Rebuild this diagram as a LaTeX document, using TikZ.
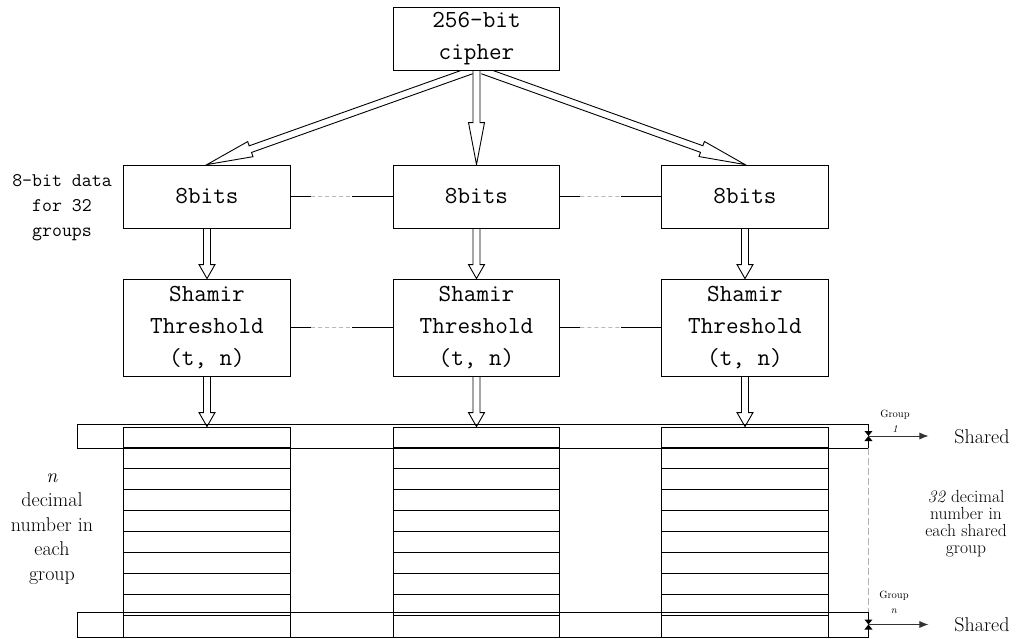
\documentclass[tikz,border=0pt]{standalone}
\usetikzlibrary{calc,arrows.meta,backgrounds}
\tikzset{
  box/.style={draw, fill=white, line width=0.9pt, minimum width=166.5pt, inner sep=0pt, align=center, font=\fontsize{24.5}{32}\selectfont\ttfamily},
  band/.style={draw, line width=0.9pt, minimum width=791pt, inner sep=0pt},
  col/.style={draw, line width=0.9pt, minimum width=166.5pt, minimum height=210pt, inner sep=0pt},
  link/.style={line width=0.8pt},
  gap/.style={white, line width=2pt, postaction={draw=gray!55, line width=0.9pt, dash pattern=on 4pt off 3pt}},
  vgap/.style={gray!60, line width=0.9pt, dash pattern=on 7pt off 3pt},
  outarrow/.style={line width=0.8pt, black!80, -{Latex[length=9pt,width=7pt]}},
  note/.style={align=center, inner sep=0pt},
}
% hollow block arrow: from, to, head length
\newcommand{\hollowarrow}[3]{%
  \coordinate (hb) at ($(#2)!#3!(#1)$);
  \filldraw[fill=white, line width=0.9pt]
    ($(#1)!3.5pt!90:(#2)$) -- ($(hb)!3.5pt!-90:(#1)$) -- ($(hb)!8pt!-90:(#1)$) -- (#2)
    -- ($(hb)!8pt!90:(#1)$) -- ($(hb)!3.5pt!90:(#1)$) -- ($(#1)!3.5pt!-90:(#2)$);}
% small hourglass mark
\newcommand{\tiemark}[1]{\fill (#1) ++(-4,-5) -- ++(8,0) -- ++(-8,10) -- ++(8,0) -- cycle;}
\begin{document}
\begin{tikzpicture}[x=1pt,y=-1pt]
\useasboundingbox (0,0) rectangle (1016,638);
% boxes
\node[box, minimum height=63pt] (cipher) at (476.5,38.5) {256-bit\\cipher};
\foreach \n/\cx in {L/207, M/476.5, R/745} {
  \node[box, minimum height=63pt] (bits\n) at (\cx,196.5) {8bits};
  \node[box, minimum height=97pt] (sham\n) at (\cx,327.5) {Shamir\\Threshold\\(t, n)};
  \node[col] (col\n) at (\cx,532) {};
}
% shares
\node[band, minimum height=24pt] (top) at (472.5,436) {};
\node[band, minimum height=25pt] (bot) at (472.5,624.5) {};
\foreach \n in {L,M,R}
  \foreach \k in {1,...,9}
    \draw[link] ($(col\n.north west)+(0,21*\k)$) -- ($(col\n.north east)+(0,21*\k)$);
\draw[vgap] (top.south east) -- (bot.north east);
% arrows
\begin{scope}[on background layer]
  \coordinate (cl) at ($(cipher.south)+(-5,0)$);
  \coordinate (cr) at ($(cipher.south)+(6,0)$);
  \hollowarrow{cl}{bitsL.north}{46pt}
  \hollowarrow{cipher.south}{bitsM.north}{42pt}
  \hollowarrow{cr}{bitsR.north}{46pt}
  \foreach \n in {L,M,R} {
    \hollowarrow{bits\n.south}{sham\n.north}{14pt}
    \hollowarrow{sham\n.south}{col\n.north}{14pt}
  }
\end{scope}
\foreach \a/\b in {L/M, M/R} {
  \draw[link] (bits\a) -- (bits\b);
  \draw[gap] ($(bits\a.east)!0.2!(bits\b.west)$) -- ($(bits\a.east)!0.6!(bits\b.west)$);
  \draw[link] (sham\a) -- (sham\b);
  \draw[gap] ($(sham\a.east)!0.2!(sham\b.west)$) -- ($(sham\a.east)!0.6!(sham\b.west)$);
}
% outputs
\tiemark{top.east}
\tiemark{bot.east}
\coordinate (o1) at ($(top.east)+(60,0)$);
\coordinate (o2) at ($(bot.east)+(60,0)$);
\draw[outarrow] (top.east) -- (o1);
\draw[outarrow] (bot.east) -- (o2);
\node[note, font=\fontsize{20}{24}\selectfont] (sh1) at (982,437) {Shared};
\node[note, font=\fontsize{20}{24}\selectfont] (sh2) at (982,625) {Shared};
\node[note, font=\fontsize{10.5}{15}\selectfont] (grp1) at (895,421) {Group\\\textit{1}};
\node[note, font=\fontsize{10.5}{15}\selectfont] (grpn) at (894,602) {Group\\\textit{n}};
\node[note, font=\fontsize{17.5}{17}\selectfont] (share) at (966,524) {\textit{32} decimal\\number in\\each shared\\group};
% left notes
\node[note, font=\fontsize{19.3}{25}\selectfont\ttfamily] (data) at (62,208) {8-bit data\\for 32\\groups};
\node[note, font=\fontsize{20}{24.5}\selectfont] (dec) at (52,529) {\textit{n}\\decimal\\number in\\each\\group};
\end{tikzpicture}
\end{document}
